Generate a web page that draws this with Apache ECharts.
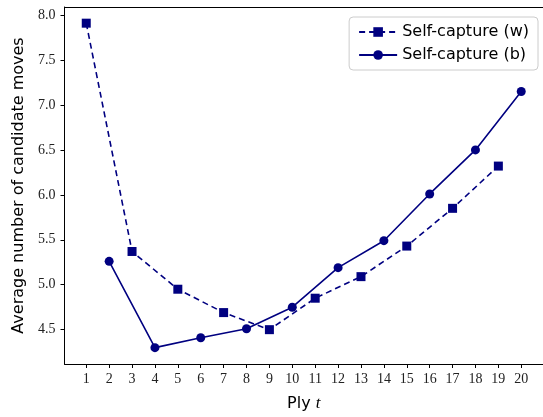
<!DOCTYPE html>
<html>
<head>
<meta charset="utf-8">
<script src="https://cdn.jsdelivr.net/npm/echarts@6/dist/echarts.min.js"></script>
<style>
  html, body { margin: 0; padding: 0; background: #fff; }
  #chart { width: 543px; height: 417px; }
</style>
</head>
<body>
<div id="chart"></div>
<script>
// plies and averages
var pliesW = [1, 3, 5, 7, 9, 11, 13, 15, 17, 19]
var movesW = [7.91, 5.37, 4.95, 4.69, 4.50, 4.85, 5.09, 5.43, 5.85, 6.32]
var pliesB = [2, 4, 6, 8, 10, 12, 14, 16, 18, 20]
var movesB = [5.26, 4.30, 4.41, 4.51, 4.75, 5.19, 5.49, 6.01, 6.50, 7.15]
var xTicks = [1, 2, 3, 4, 5, 6, 7, 8, 9, 10, 11, 12, 13, 14, 15, 16, 17, 18, 19, 20]
var yTicks = [4.5, 5.0, 5.5, 6.0, 6.5, 7.0, 7.5, 8.0]

var navy = '#000080'
var serif = 'Liberation Serif'
var sans = 'DejaVu Sans'

function pairs(xs, ys) {
  var out = []
  for (var i = 0; i < xs.length; i++) out.push([xs[i], ys[i]])
  return out
}

var chart = echarts.init(document.getElementById('chart'), null, { renderer: 'canvas' })

var option = {
  animation: false,
  backgroundColor: '#fff',
  grid: { left: 64.5, right: -4.7, top: 7, bottom: 49, containLabel: false },
  legend: {
    orient: 'vertical',
    right: 5,
    top: 17,
    padding: [7, 9, 7, 9],
    itemGap: 7,
    itemWidth: 38,
    itemHeight: 12,
    borderColor: '#cccccc',
    borderWidth: 1,
    borderRadius: 4,
    textStyle: { fontFamily: sans, fontSize: 16, color: '#000' },
    data: ['Self-capture (w)', 'Self-capture (b)']
  },
  xAxis: [{
    type: 'value',
    min: 0.05,
    max: 20.95,
    name: '{n|Ply }{t|t}',
    nameLocation: 'middle',
    nameGap: 31,
    nameTextStyle: {
      fontFamily: sans, fontSize: 16, color: '#000',
      rich: {
        n: { fontFamily: sans, fontSize: 16, color: '#000' },
        t: { fontFamily: serif, fontStyle: 'italic', fontSize: 17, color: '#000' }
      }
    },
    splitLine: { show: false },
    axisLine: { show: true, onZero: false, lineStyle: { color: '#000', width: 1 } },
    axisTick: { show: true, length: 4, customValues: xTicks, lineStyle: { color: '#000' } },
    axisLabel: { customValues: xTicks, fontFamily: serif, fontSize: 14, color: '#222', margin: 8 }
  }, {
    type: 'value',
    position: 'top',
    min: 0.05,
    max: 20.95,
    splitLine: { show: false },
    axisLine: { show: true, lineStyle: { color: '#000', width: 1 } },
    axisTick: { show: false },
    axisLabel: { show: false }
  }],
  yAxis: {
    type: 'value',
    min: 4.118,
    max: 8.09,
    name: 'Average number of candidate moves',
    nameLocation: 'middle',
    nameGap: 38,
    nameTextStyle: { fontFamily: sans, fontSize: 16, color: '#000' },
    splitLine: { show: false },
    axisLine: { show: true, lineStyle: { color: '#000', width: 1 } },
    axisTick: { show: true, length: 4, customValues: yTicks, lineStyle: { color: '#000' } },
    axisLabel: {
      customValues: yTicks,
      fontFamily: serif, fontSize: 14, color: '#222', margin: 9,
      formatter: function (v) { return v.toFixed(1) }
    }
  },
  series: [{
    name: 'Self-capture (w)',
    type: 'line',
    data: pairs(pliesW, movesW),
    symbol: 'rect',
    symbolSize: 9,
    color: navy,
    itemStyle: { color: navy },
    lineStyle: { color: navy, width: 1.6, type: [6, 4] }
  }, {
    name: 'Self-capture (b)',
    type: 'line',
    data: pairs(pliesB, movesB),
    symbol: 'circle',
    symbolSize: 9,
    color: navy,
    itemStyle: { color: navy },
    lineStyle: { color: navy, width: 1.6 }
  }]
}
chart.setOption(option)
</script>
</body>
</html>
